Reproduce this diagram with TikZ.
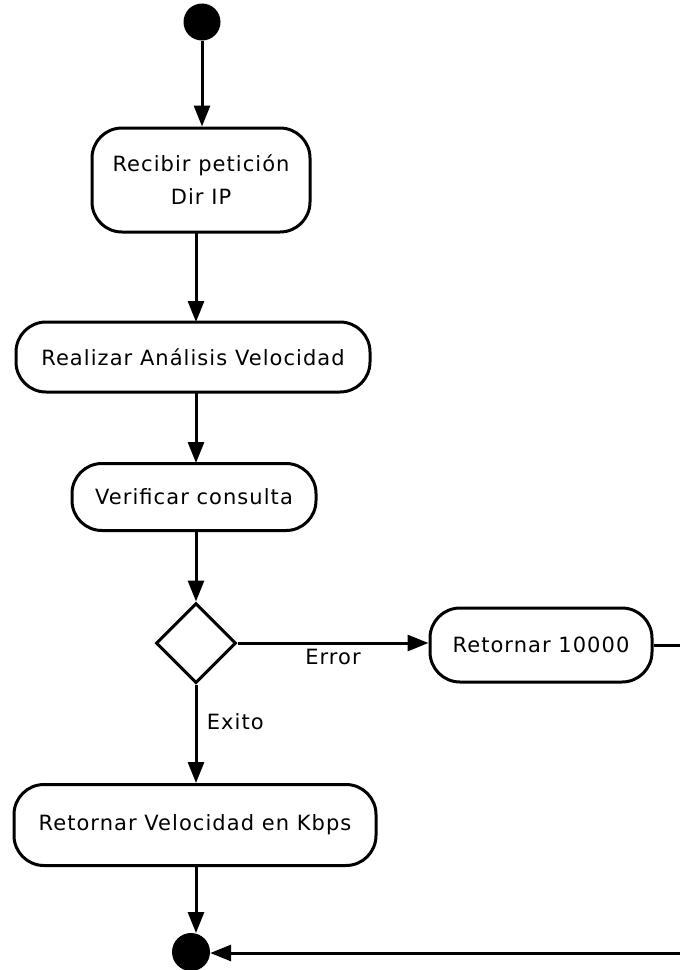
\documentclass[tikz,border=0pt]{standalone}
\usepackage{fontspec}
\setmainfont{DejaVu Sans}
\newfontfamily\diafont[LetterSpace=5]{DejaVu Sans}
\usetikzlibrary{shapes.geometric,arrows.meta}
\begin{document}
\begin{tikzpicture}[x=1pt,y=-1pt,
  act/.style={draw,line width=3pt,rounded corners=30pt,minimum height=70pt,inner sep=0pt,font=\diafont\fontsize{21}{33}\selectfont,align=center,fill=white},
  flow/.style={line width=3pt,-{Triangle[length=21pt,width=16pt]}},
  plain/.style={line width=3pt},
  lbl/.style={font=\diafont\fontsize{21}{24}\selectfont}]
\useasboundingbox (0,0) rectangle (680,970);
\node[circle,fill=black,minimum size=37pt,inner sep=0pt] (start) at (202,22) {};
\node[act,minimum width=218pt,minimum height=104pt] (recibir) at (201,180) {Recibir petición\\Dir IP};
\node[act,minimum width=354pt] (realizar) at (193,357) {Realizar Análisis Velocidad};
\node[act,minimum width=244pt,minimum height=67pt] (verificar) at (194,497) {Verificar consulta};
\node[diamond,draw,line width=3pt,minimum width=80pt,minimum height=80pt,inner sep=0pt] (dec) at (196,643) {};
\node[act,minimum width=222pt,minimum height=74pt] (ret10) at (541,645) {Retornar 10000};
\node[act,minimum width=362pt,minimum height=81pt] (retvel) at (195,825) {Retornar Velocidad en Kbps};
\node[circle,fill=black,minimum size=38pt,inner sep=0pt] (end) at (191,952) {};
\coordinate (c1) at (700,645);
\coordinate (c2) at (700,953);
\draw[flow] (start) -- (start |- recibir.north);
\draw[flow] (196,232) -- (196,322);
\draw[flow] (196,392) -- (196,463);
\draw[flow] (196,530) -- (dec.north);
\draw[flow] (dec.east) -- node[lbl,below=1pt,pos=0.5] {Error} (ret10.west |- dec.east);
\draw[flow] (dec.south) -- node[lbl,right=6pt,pos=0.38] {Exito} (dec.south |- retvel.north);
\draw[flow] (196,866) -- (196,933);
\draw[plain] (ret10.east) -- (c1) -- (c2);
\draw[flow] (c2) -- (end.east |- c2);
\end{tikzpicture}
\end{document}
